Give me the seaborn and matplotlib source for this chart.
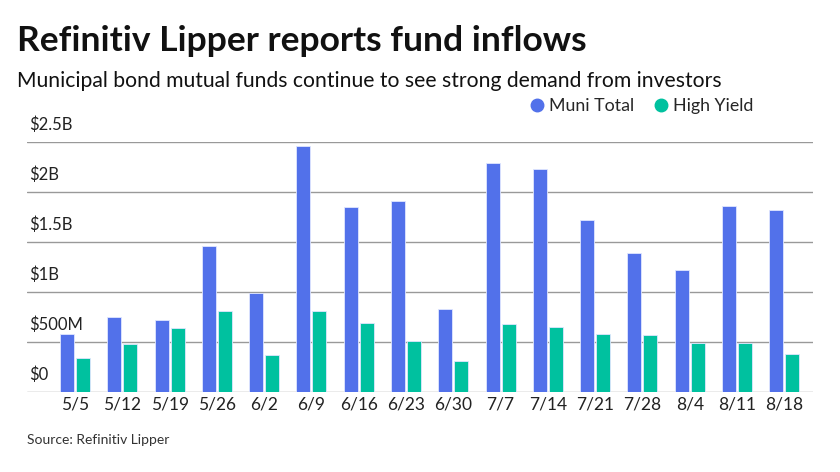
import pandas as pd
import seaborn as sns
import matplotlib.pyplot as plt
from matplotlib.lines import Line2D

# weekly fund flows, in millions of dollars
weeks = ['5/5', '5/12', '5/19', '5/26', '6/2', '6/9', '6/16', '6/23',
         '6/30', '7/7', '7/14', '7/21', '7/28', '8/4', '8/11', '8/18']
muni_total = [583, 750, 723, 1463, 996, 2463, 1850, 1913,
              830, 2290, 2236, 1723, 1390, 1226, 1866, 1826]
high_yield = [340, 486, 646, 813, 370, 813, 693, 513,
              313, 680, 653, 580, 576, 490, 490, 386]
series = ['Muni Total', 'High Yield']
colors = ['#5271EA', '#00C19F']
tick_values = [0, 500, 1000, 1500, 2000, 2500]
tick_labels = ['$0', '$500M', '$1B', '$1.5B', '$2B', '$2.5B']

df = pd.DataFrame({'week': weeks * 2,
                   'value': muni_total + high_yield,
                   'series': [series[0]] * len(weeks) + [series[1]] * len(weeks)})

sns.set_style('white')
plt.rcParams['font.family'] = ['Lato', 'DejaVu Sans']

fig = plt.figure(figsize=(8.4, 4.72), dpi=100)
ax = fig.add_axes([0.032, 0.1689, 0.936, 0.5296])

sns.barplot(data=df, x='week', y='value', hue='series', palette=colors,
            saturation=1, width=0.677, gap=0.125, edgecolor='#dfe6ff',
            linewidth=0.6, legend=False, ax=ax)

ax.set_xlim(-1.02, 15.61)
ax.set_ylim(0, 2500)
ax.set_yticks(tick_values)
ax.set_yticklabels([])
ax.tick_params(axis='y', length=0)
ax.tick_params(axis='x', length=0, pad=3, labelsize=12.5, labelcolor='#222222')
ax.grid(axis='y', color='#999999', linewidth=1)
ax.set_axisbelow(True)
for s in ax.spines.values():
    s.set_visible(False)
ax.set_xlabel('')
ax.set_ylabel('')

# y labels sit above their grid lines, left aligned
for v, lab in zip(tick_values, tick_labels):
    ax.annotate(lab, xy=(0.003, v), xycoords=ax.get_yaxis_transform(),
                xytext=(0, 7), textcoords='offset points',
                ha='left', va='bottom', fontsize=12, color='#222222',
                annotation_clip=False)

fig.text(0.02, 0.913, 'Refinitiv Lipper reports fund inflows',
         fontsize=25.5, fontweight='bold', color='#111111', va='center')
fig.text(0.02, 0.828, 'Municipal bond mutual funds continue to see strong demand from investors',
         fontsize=15.2, color='#111111', va='center')
fig.text(0.032, 0.067, 'Source: Refinitiv Lipper', fontsize=10, color='#333333', va='center')

handles = [Line2D([], [], marker='o', linestyle='', markersize=9, color=c) for c in colors]
fig.legend(handles, series, loc='center left', bbox_to_anchor=(0.62, 0.775), ncol=2,
           frameon=False, fontsize=12.8, handletextpad=0.2, columnspacing=1.0,
           handlelength=1.0, borderaxespad=0)

fig.savefig('out.png', dpi=100)
